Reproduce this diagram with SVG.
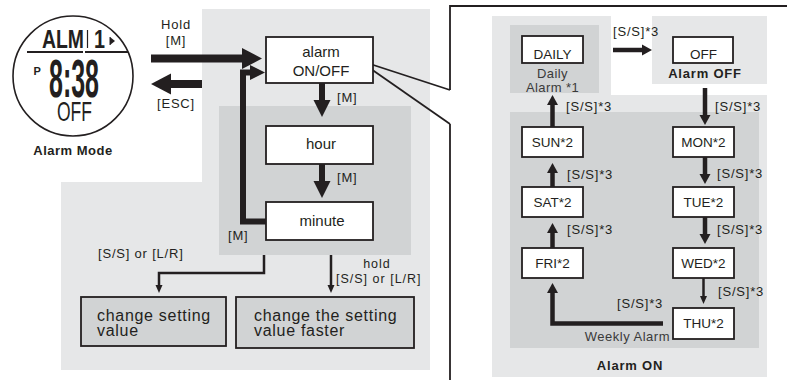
<svg xmlns="http://www.w3.org/2000/svg" width="787" height="380" viewBox="0 0 787 380">
<style>
text{font-family:"Liberation Sans",Arial,sans-serif;fill:#231f20}
.lbl{font-size:13px;letter-spacing:0.8px}
.box{fill:#fff;stroke:#231f20;stroke-width:1.8}
.gbox{fill:#d1d3d4;stroke:#231f20;stroke-width:1.8}
.bt{font-size:15px;text-anchor:middle}
.rt{font-size:13.5px;text-anchor:middle}
.bold{font-weight:bold}
.lt{fill:#e6e7e8}
.dk{fill:#d1d3d4}
.cap{font-size:13px;letter-spacing:0.4px;fill:#3a3a3a;text-anchor:middle}
.big{font-size:16px;letter-spacing:0.7px}
.c8{fill:none;stroke:#231f20;stroke-width:8}
.c6{fill:none;stroke:#231f20;stroke-width:6}
.c45{fill:none;stroke:#231f20;stroke-width:4.5}
.c25{fill:none;stroke:#231f20;stroke-width:2.5}
.ln{fill:none;stroke:#231f20;stroke-width:1.8}
</style>
<defs>
<marker id="mBig" markerUnits="userSpaceOnUse" orient="auto" overflow="visible" refX="0" refY="0" markerWidth="20" markerHeight="21"><path d="M0,-10.5 L20,0 L0,10.5 Z" fill="#231f20"/></marker>
<marker id="mMid" markerUnits="userSpaceOnUse" orient="auto" overflow="visible" refX="0" refY="0" markerWidth="17" markerHeight="17"><path d="M0,-8.5 L17,0 L0,8.5 Z" fill="#231f20"/></marker>
<marker id="mLoop" markerUnits="userSpaceOnUse" orient="auto" overflow="visible" refX="0" refY="0" markerWidth="15" markerHeight="15"><path d="M0,-7.5 L15,0 L0,7.5 Z" fill="#231f20"/></marker>
<marker id="mSm" markerUnits="userSpaceOnUse" orient="auto" overflow="visible" refX="0" refY="0" markerWidth="10" markerHeight="11"><path d="M0,-5.5 L10,0 L0,5.5 Z" fill="#231f20"/></marker>
<marker id="mThin" markerUnits="userSpaceOnUse" orient="auto" overflow="visible" refX="0" refY="0" markerWidth="8" markerHeight="7"><path d="M0,-3.5 L8,0 L0,3.5 Z" fill="#231f20"/></marker>
</defs>
<rect width="787" height="380" fill="#fff"/>

<!-- backgrounds -->
<g id="panels">
<polygon class="lt" points="202,9 430,9 430,370 61,370 61,182 202,182"/>
<rect class="dk" x="219" y="106" width="192" height="149"/>
<polygon class="lt" points="492,16 611,16 611,95 767,95 767,377 492,377"/>
<rect class="lt" x="652" y="16" width="115" height="68"/>
<rect class="dk" x="510" y="25" width="89" height="68"/>
<rect class="dk" x="510" y="112" width="249" height="236"/>
<polyline class="ln" points="450,90 450,6 790,6"/>
<polyline class="ln" points="450,124 450,385"/>
<line class="ln" x1="358" y1="60" x2="450" y2="90"/>
<line class="ln" x1="361" y1="62" x2="450" y2="124"/>
</g>

<!-- watch -->
<g id="watch">
<circle cx="73" cy="76" r="60" fill="#fff" stroke="#231f20" stroke-width="1.6"/>
<text x="42" y="48" font-size="25" textLength="42" lengthAdjust="spacingAndGlyphs" style="font-weight:600">ALM</text>
<line x1="87.5" y1="30" x2="87.5" y2="48" stroke="#231f20" stroke-width="1.2"/>
<text x="94" y="48" font-size="25" textLength="11" lengthAdjust="spacingAndGlyphs" style="font-weight:600">1</text>
<polygon points="110,37 115,41 110,45" fill="#231f20"/>
<line x1="110" y1="37" x2="110" y2="45" stroke="#231f20" stroke-width="1"/>
<line x1="27" y1="52" x2="83" y2="52" stroke="#231f20" stroke-width="2"/>
<line x1="85" y1="52" x2="128" y2="52" stroke="#231f20" stroke-width="2"/>
<text x="33.5" y="75" font-size="11" font-weight="bold">P</text>
<text x="49" y="97" font-size="54" font-weight="bold" textLength="50" lengthAdjust="spacingAndGlyphs">8:38</text>
<text x="57" y="121" font-size="28" textLength="35" lengthAdjust="spacingAndGlyphs">OFF</text>
<text x="73" y="155" font-size="13" class="bold" text-anchor="middle" letter-spacing="0.5">Alarm Mode</text>
</g>

<!-- left flow nodes -->
<g id="node-alarm"><rect class="box" x="266" y="37" width="107" height="46"/><text class="bt" x="321" y="57">alarm</text><text class="bt" x="321" y="76">ON/OFF</text></g>
<g id="node-hour"><rect class="box" x="266" y="126" width="107" height="38"/><text class="bt" x="321" y="149">hour</text></g>
<g id="node-minute"><rect class="box" x="266" y="202" width="107" height="38"/><text class="bt" x="322" y="226">minute</text></g>
<g id="node-change"><rect class="gbox" x="81" y="297" width="145" height="49"/><text class="big" x="97" y="320.5">change setting</text><text class="big" x="97" y="335.5">value</text></g>
<g id="node-faster"><rect class="gbox" x="236" y="297" width="178" height="51"/><text class="big" x="254" y="321">change the setting</text><text class="big" x="254" y="335.5">value faster</text></g>

<!-- right flow nodes -->
<g id="node-daily"><rect class="box" x="522" y="36" width="61" height="27"/><text class="rt" x="552.5" y="59">DAILY</text><text class="cap" x="552.5" y="78">Daily</text><text class="cap" x="552.5" y="92">Alarm *1</text></g>
<g id="node-off"><rect class="box" x="673" y="37" width="60" height="26"/><text class="rt" x="703.5" y="59">OFF</text><text x="705" y="78" font-size="13" class="bold" text-anchor="middle" letter-spacing="0.8">Alarm OFF</text></g>
<g id="node-sun"><rect class="box" x="522" y="127" width="61" height="30"/><text class="rt" x="552.5" y="146.5">SUN*2</text></g>
<g id="node-sat"><rect class="box" x="522" y="187" width="61" height="30"/><text class="rt" x="552.5" y="206.5">SAT*2</text></g>
<g id="node-fri"><rect class="box" x="522" y="248" width="61" height="30"/><text class="rt" x="552.5" y="267.5">FRI*2</text></g>
<g id="node-mon"><rect class="box" x="673" y="127" width="61" height="30"/><text class="rt" x="703.5" y="146.5">MON*2</text></g>
<g id="node-tue"><rect class="box" x="673" y="187" width="61" height="30"/><text class="rt" x="703.5" y="206.5">TUE*2</text></g>
<g id="node-wed"><rect class="box" x="673" y="248" width="61" height="30"/><text class="rt" x="703.5" y="267.5">WED*2</text></g>
<g id="node-thu"><rect class="box" x="673" y="308" width="61" height="31"/><text class="rt" x="703.5" y="328">THU*2</text></g>
<g id="captions">
<text x="670" y="341" font-size="13" text-anchor="end" letter-spacing="0.5" style="fill:#3a3a3a">Weekly Alarm</text>
<text x="630" y="370" font-size="13" class="bold" text-anchor="middle" letter-spacing="0.8">Alarm ON</text>
</g>

<!-- connectors -->
<g id="connectors">
<path class="c8" d="M151,58.5 H242" marker-end="url(#mBig)"/>
<path class="c8" d="M202,84 H171" marker-end="url(#mBig)"/>
<path class="c6" d="M322,83 V100" marker-end="url(#mMid)"/>
<path class="c6" d="M322,164 V181" marker-end="url(#mMid)"/>
<path class="c6" d="M266,221.5 H243 V72.5 H250" marker-end="url(#mLoop)"/>
<path class="c25" d="M264,255 V273 H159 V285" marker-end="url(#mThin)"/>
<path class="c25" d="M331,255 V285" marker-end="url(#mThin)"/>
<path class="c45" d="M613,50 H642" marker-end="url(#mSm)"/>
<path class="c45" d="M552.5,127 V105" marker-end="url(#mSm)"/>
<path class="c45" d="M552.5,187 V173" marker-end="url(#mSm)"/>
<path class="c45" d="M552.5,248 V233" marker-end="url(#mSm)"/>
<path class="c45" d="M663,323.5 H552.5 V293" marker-end="url(#mSm)"/>
<path class="c45" d="M705,88 V115" marker-end="url(#mSm)"/>
<path class="c45" d="M705,157 V174" marker-end="url(#mSm)"/>
<path class="c45" d="M705,217 V234" marker-end="url(#mSm)"/>
<path class="c25" d="M703.5,278 V296" marker-end="url(#mThin)"/>
<text class="lbl" x="176" y="29" text-anchor="middle">Hold</text>
<text class="lbl" x="176" y="44.5" text-anchor="middle">[M]</text>
<text class="lbl" x="176" y="108" text-anchor="middle">[ESC]</text>
<text class="lbl" x="337" y="101.5">[M]</text>
<text class="lbl" x="337" y="182">[M]</text>
<text class="lbl" x="228" y="239.5">[M]</text>
<text class="lbl" x="98" y="257.5">[S/S] or [L/R]</text>
<text x="377" y="267.5" text-anchor="middle" font-size="12.5" letter-spacing="1">hold</text>
<text x="336" y="282.5" font-size="12.5" letter-spacing="1">[S/S] or [L/R]</text>
<text class="lbl" x="613" y="36">[S/S]*3</text>
<text class="lbl" x="566" y="111">[S/S]*3</text>
<text class="lbl" x="715" y="110.5">[S/S]*3</text>
<text class="lbl" x="567" y="179">[S/S]*3</text>
<text class="lbl" x="567" y="233.5">[S/S]*3</text>
<text class="lbl" x="717" y="178">[S/S]*3</text>
<text class="lbl" x="717" y="233.5">[S/S]*3</text>
<text class="lbl" x="718" y="295.5">[S/S]*3</text>
<text class="lbl" x="617" y="308">[S/S]*3</text>
</g>
</svg>
